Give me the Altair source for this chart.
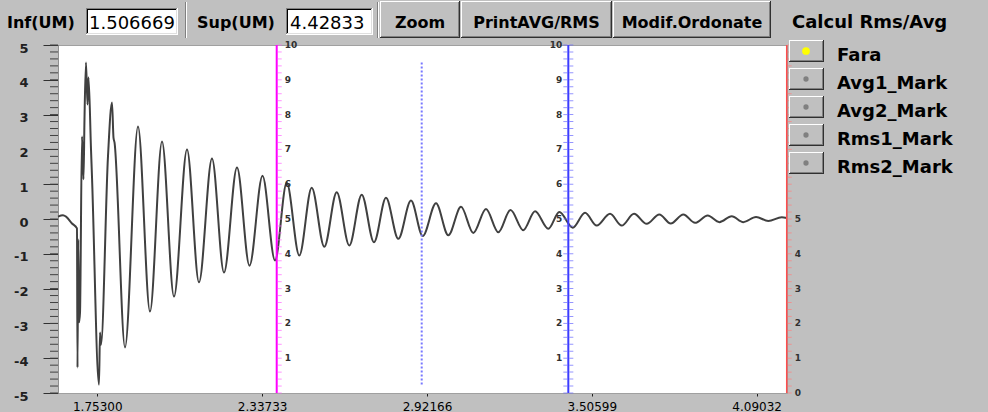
import altair as alt
import pandas as pd

# ---------------- data ----------------
sig_x = [1.6137, 1.6314, 1.642, 1.6633, 1.681, 1.6828, 1.6856, 1.6881, 1.6917, 1.6988,
         1.7041, 1.7076, 1.7129, 1.7183, 1.7218, 1.7307, 1.7342, 1.759, 1.7626, 1.7661,
         1.7909, 1.8051, 1.8104, 1.814, 1.8512, 1.8973, 1.9398, 1.9824, 2.0249, 2.071,
         2.1135, 2.1596, 2.2021, 2.2482, 2.2925, 2.3386, 2.383, 2.4244, 2.4691, 2.5131,
         2.5577, 2.6017, 2.6463, 2.6903, 2.7339, 2.7764, 2.82, 2.865, 2.9065, 2.9537,
         2.9973, 3.0423, 3.0859, 3.1309, 3.1745, 3.2178, 3.2632, 3.3047, 3.3519, 3.3908,
         3.4383, 3.4819, 3.5234, 3.5705, 3.612, 3.6556, 3.7006, 3.7453, 3.7857, 3.8304,
         3.8719, 3.9169, 3.958, 4.002, 4.0431, 4.0881, 4.1317, 4.1792, 4.1969]
sig_y = [0.07, 0.11, 0.07, -0.13, -0.27, -4.27, -0.59, -2.97, -2.69, 2.37,
         1.14, 2.87, 4.50, 3.29, 4.07, 2.00, 1.22, -4.76, -3.26, -3.61,
         1.80, 3.35, 2.34, 2.20, -3.69, 2.66, -2.66, 2.23, -2.23, 2.00,
         -1.82, 1.74, -1.54, 1.48, -1.34, 1.24, -1.19, 1.04, -1.05, 0.90,
         -0.80, 0.77, -0.76, 0.70, -0.67, 0.61, -0.57, 0.53, -0.49, 0.45,
         -0.47, 0.35, -0.40, 0.29, -0.38, 0.26, -0.32, 0.22, -0.28, 0.20,
         -0.25, 0.18, -0.19, 0.15, -0.19, 0.15, -0.14, 0.13, -0.13, 0.13,
         -0.11, 0.10, -0.09, 0.08, -0.09, 0.06, -0.06, 0.05, 0.03]

x_ticks = [1.75300, 2.33733, 2.92166, 3.50599, 4.09032]
y_ticks = [-5, -4, -3, -2, -1, 0, 1, 2, 3, 4, 5]
x_domain = [1.6137, 4.1979]

marker_magenta = 2.389
marker_blue_dotted = 2.903
marker_blue_dotted_span = [4.5, -4.76]
marker_blue = 3.4227
marker_red = 4.1969

marker_scale_full = [1, 2, 3, 4, 5, 6, 7, 8, 9, 10]
marker_scale_red = [0, 1, 2, 3, 4, 5]

inf_value = "1.506669"
sup_value = "4.42833"
buttons = ["Zoom", "PrintAVG/RMS", "Modif.Ordonate"]
options = ["Fara", "Avg1_Mark", "Avg2_Mark", "Rms1_Mark", "Rms2_Mark"]
selected = "Fara"

# ---------------- layout ----------------
W, H = 729, 348
OX, OY = 58, 45
FONT = "DejaVu Sans"
one = pd.DataFrame({"a": [0]})

xscale = alt.Scale(domain=x_domain, nice=False, zero=False)
yscale = alt.Scale(domain=[-5, 5], nice=False, zero=False)
x_enc = alt.X("x:Q", scale=xscale, title=None,
              axis=alt.Axis(values=x_ticks, format=".5f", tickSize=3, tickColor="#202020",
                            labelFont=FONT, labelFontSize=12, labelColor="#000000",
                            labelPadding=5, domainColor="#a0a0a0", grid=False,
                            labelOverlap=False, labelFlush=False))
y_enc = alt.Y("y:Q", scale=yscale, title=None,
              axis=alt.Axis(values=y_ticks, labelExpr="'' + datum.value", tickSize=15,
                            tickColor="#303030", labelFont=FONT, labelFontSize=13,
                            labelFontWeight="bold", labelColor="#202020", labelPadding=15,
                            domainColor="#909090", grid=False, labelOffset=3,
                            labelOverlap=False, labelFlush=False))

layers = []

# minor ticks on the left axis
minor = pd.DataFrame({"y": [round(-5 + 0.2 * i, 1) for i in range(51)]})
layers.append(alt.Chart(minor).mark_rule(color="#404040", strokeWidth=1).encode(
    y=y_enc, x=alt.value(-8), x2=alt.value(0)))

# signal
sig = pd.DataFrame({"x": sig_x, "y": sig_y})
layers.append(alt.Chart(sig).mark_line(color="#404040", strokeWidth=2,
                                       interpolate="monotone").encode(x=x_enc, y=y_enc))

# vertical markers
def vline(xv, color, width):
    return alt.Chart(pd.DataFrame({"x": [xv]})).mark_rule(color=color, strokeWidth=width).encode(
        x=x_enc, y=alt.value(0), y2=alt.value(H))

def ticks_on(xv, color, offset):
    d = pd.DataFrame({"x": [xv] * 51, "y": [round(-5 + 0.2 * i, 1) for i in range(51)]})
    return alt.Chart(d).mark_tick(orient="horizontal", size=4, thickness=1, color=color,
                                  xOffset=offset).encode(x=x_enc, y=y_enc)

def labels_on(xv, vals, align, dx):
    d = pd.DataFrame({"x": [xv] * len(vals), "y": [v - 5 for v in vals],
                      "t": [str(v) for v in vals]})
    return alt.Chart(d).mark_text(align=align, baseline="middle", dx=dx, font=FONT,
                                  fontSize=9, fontWeight="bold", color="#303030").encode(
        x=x_enc, y=y_enc, text="t:N")

layers.append(vline(marker_magenta, "#ff00ff", 2))
layers.append(ticks_on(marker_magenta, "#ff66ff", 3))
layers.append(labels_on(marker_magenta, marker_scale_full, "left", 8))

dot = pd.DataFrame({"x": [marker_blue_dotted], "y": [marker_blue_dotted_span[0]],
                    "y2": [marker_blue_dotted_span[1]]})
layers.append(alt.Chart(dot).mark_rule(color="#7878ff", strokeWidth=2, strokeDash=[2, 2]).encode(
    x=x_enc, y=y_enc, y2="y2:Q"))

layers.append(vline(marker_blue, "#3c3cff", 2))
layers.append(ticks_on(marker_blue, "#6a6aff", -3))
layers.append(ticks_on(marker_blue, "#6a6aff", 3))
layers.append(labels_on(marker_blue, marker_scale_full, "right", -6))

layers.append(vline(marker_red, "#ff4d4d", 1.5))
layers.append(ticks_on(marker_red, "#ff8080", 3))
layers.append(labels_on(marker_red, marker_scale_red, "left", 8))

# ---------------- window chrome (toolbar + option panel) ----------------
def rect(x0, y0, x1, y1, color):
    return alt.Chart(one).mark_rect(color=color).encode(
        x=alt.value(x0 - OX), x2=alt.value(x1 - OX), y=alt.value(y0 - OY), y2=alt.value(y1 - OY))

def raised(x0, y0, x1, y1):
    return [rect(x0, y0, x1, y1, "#303030"), rect(x0, y0, x1 - 1, y1 - 1, "#ffffff"),
            rect(x0 + 1, y0 + 1, x1 - 1, y1 - 1, "#808080"),
            rect(x0 + 1, y0 + 1, x1 - 2, y1 - 2, "#c0c0c0")]

def sunken(x0, y0, x1, y1):
    return [rect(x0, y0, x1, y1, "#ffffff"), rect(x0, y0, x1 - 1, y1 - 1, "#808080"),
            rect(x0 + 1, y0 + 1, x1 - 1, y1 - 1, "#dfdfdf"),
            rect(x0 + 1, y0 + 1, x1 - 2, y1 - 2, "#000000"),
            rect(x0 + 2, y0 + 2, x1 - 2, y1 - 2, "#ffffff")]

def text(px, py, s, size=16, weight="bold", align="left", color="#000000"):
    return alt.Chart(one).mark_text(align=align, baseline="alphabetic", font=FONT,
                                    fontSize=size, fontWeight=weight, color=color).encode(
        x=alt.value(px - OX), y=alt.value(py - OY), text=alt.value(s))

def etch(px, y0, y1):
    return [rect(px, y0, px + 1, y1, "#808080"), rect(px + 1, y0, px + 2, y1, "#ffffff")]

layers += [text(7, 28, "Inf(UM)")]
layers += sunken(86, 8, 178, 35)
layers += [text(89, 29, inf_value, size=18, weight="normal")]
layers += etch(185, 2, 38)
layers += [text(197, 28, "Sup(UM)")]
layers += sunken(286, 8, 373, 35)
layers += [text(290, 29, sup_value, size=18, weight="normal")]
layers += etch(377, 2, 38)

btn_edges = [(380, 460), (461, 612), (613, 771)]
for (x0, x1), label in zip(btn_edges, buttons):
    layers += raised(x0, 1, x1, 38)
    layers += [text((x0 + x1) / 2, 28, label, align="center")]

layers += [text(792, 28, "Calcul Rms/Avg", size=18)]

for i, label in enumerate(options):
    top = 40 + 28 * i
    layers += raised(789, top, 824, top + 22)
    cy = top + 11
    is_sel = label == selected
    layers.append(alt.Chart(one).mark_point(
        filled=True, shape="circle", size=60 if is_sel else 28, opacity=1,
        color="#ffff00" if is_sel else "#808080").encode(
        x=alt.value(806 - OX), y=alt.value(cy - OY)))
    layers += [text(837, top + 21, label, size=18)]

chart = alt.layer(*layers).properties(
    width=W, height=H, background="#c0c0c0",
    padding={"left": OX, "top": OY, "right": 988 - OX - W, "bottom": 412 - OY - H},
    autosize=alt.AutoSizeParams(type="none"),
).configure_view(fill="white", stroke="#a0a0a0")

chart.save("out.html", embed_options={"renderer": "svg", "actions": False})
